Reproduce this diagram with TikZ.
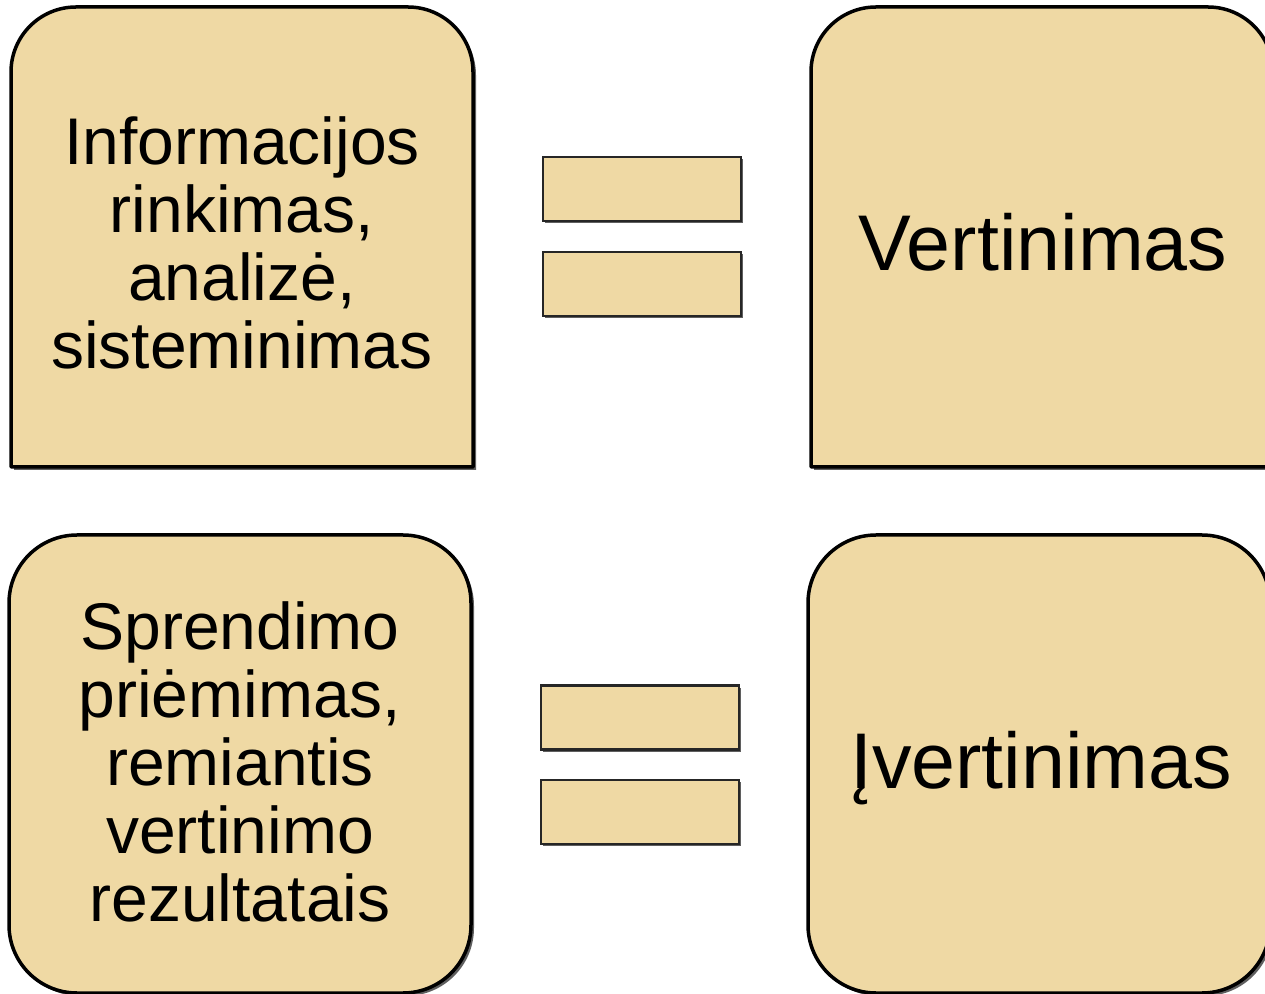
\documentclass[tikz,border=0pt]{standalone}
\usepackage{fontspec}
\setmainfont{Liberation Sans}
\usetikzlibrary{shadows}
\definecolor{papyrus}{RGB}{239,217,164}
\definecolor{shadowgray}{RGB}{95,95,95}
\begin{document}
\begin{tikzpicture}[x=0.5pt,y=-0.5pt,
  card/.style={draw=black,line width=1.75pt,fill=papyrus,line join=round,
    drop shadow={shadow xshift=1.5pt,shadow yshift=-1.5pt,fill=shadowgray,opacity=1}},
  bar/.style={draw=black!85,line width=1.25pt,fill=papyrus,
    drop shadow={shadow xshift=1.2pt,shadow yshift=-1.2pt,fill=shadowgray,opacity=1}},
  multitext/.style={align=center,font=\fontsize{33pt}{34pt}\selectfont,inner sep=0pt},
  bigtext/.style={font=\fontsize{39.5pt}{41pt}\selectfont,inner sep=0pt,anchor=base}]
\useasboundingbox (0,0) rectangle (1265,994);
\clip (0,0) rectangle (1265,994);
% top row cards (rounded top corners)
\path[card] (11,467) -- (11,72) arc[start angle=180,end angle=90,radius=32.5pt]
  -- (408,7) arc[start angle=90,end angle=0,radius=32.5pt] -- (473,467) -- cycle;
\path[card] (811,467) -- (811,72) arc[start angle=180,end angle=90,radius=32.5pt]
  -- (1208,7) arc[start angle=90,end angle=0,radius=32.5pt] -- (1273,467) -- cycle;
% bottom row cards (all corners rounded)
\path[card,rounded corners=34pt] (9,535) rectangle (471,993);
\path[card,rounded corners=34pt] (808,535) rectangle (1270,993);
% equal signs
\node[bar,minimum width=99pt,minimum height=32pt,inner sep=0pt] (eq1a) at (642,189) {};
\node[bar,minimum width=99pt,minimum height=32pt,inner sep=0pt] (eq1b) at (642,284) {};
\node[bar,minimum width=99pt,minimum height=32pt,inner sep=0pt] (eq2a) at (640,717.5) {};
\node[bar,minimum width=99pt,minimum height=32pt,inner sep=0pt] (eq2b) at (640,812) {};
% texts
\node[multitext] (t1) at (242,243) {Informacijos\\rinkimas,\\analizė,\\sisteminimas};
\node[bigtext] (t2) at (1043,271) {Vertinimas};
\node[multitext] (t3) at (240,762) {Sprendimo\\priėmimas,\\remiantis\\vertinimo\\rezultatais};
\node[bigtext] (t4) at (1041,788) {Įvertinimas};
\end{tikzpicture}
\end{document}
